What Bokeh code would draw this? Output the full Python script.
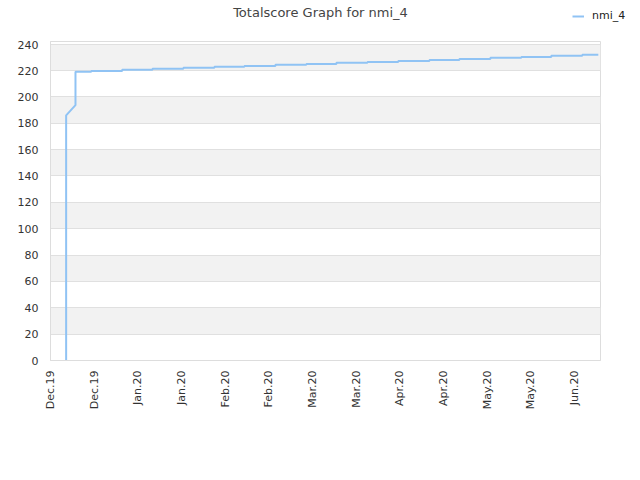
import math
import pandas as pd
from bokeh.plotting import figure
from bokeh.layouts import column, row
from bokeh.models import (FixedTicker, DatetimeTickFormatter, Range1d, BoxAnnotation,
                          Legend, LegendItem, Label)
from bokeh.embed import file_html
from bokeh.resources import INLINE

# ---- data ----
times = ["2019-12-15 09:00", "2019-12-15 09:00", "2019-12-18 14:00", "2019-12-18 14:00",
         "2019-12-24 00:00", "2019-12-24 00:00",
         "2020-01-03 15:00", "2020-01-03 15:00",
         "2020-01-14 01:00", "2020-01-14 01:00",
         "2020-01-24 16:00", "2020-01-24 16:00",
         "2020-02-04 08:00", "2020-02-04 08:00",
         "2020-02-14 15:00", "2020-02-14 15:00",
         "2020-02-25 07:00", "2020-02-25 07:00",
         "2020-03-06 22:00", "2020-03-06 22:00",
         "2020-03-17 06:00", "2020-03-17 06:00",
         "2020-03-27 22:00", "2020-03-27 22:00",
         "2020-04-07 12:00", "2020-04-07 12:00",
         "2020-04-18 05:00", "2020-04-18 05:00",
         "2020-04-28 12:00", "2020-04-28 12:00",
         "2020-05-09 04:00", "2020-05-09 04:00",
         "2020-05-19 19:00", "2020-05-19 19:00",
         "2020-05-30 02:00", "2020-05-30 02:00",
         "2020-06-09 18:00", "2020-06-09 18:00",
         "2020-06-15 06:00"]
scores = [0, 186, 193.7, 219.0,
          219.0, 219.7,
          219.7, 220.5,
          220.5, 221.3,
          221.3, 222.0,
          222.0, 222.8,
          222.8, 223.5,
          223.5, 224.3,
          224.3, 225.0,
          225.0, 225.8,
          225.8, 226.5,
          226.5, 227.3,
          227.3, 228.0,
          228.0, 228.8,
          228.8, 229.6,
          229.6, 230.3,
          230.3, 231.1,
          231.1, 231.9,
          231.9]

x_tick_dates = ["2019-12-10", "2019-12-25", "2020-01-09", "2020-01-24", "2020-02-08",
                "2020-02-23", "2020-03-09", "2020-03-24", "2020-04-08", "2020-04-23",
                "2020-05-08", "2020-05-23", "2020-06-07"]
x_range_dates = ["2019-12-10", "2020-06-16"]
y_ticks = [0, 20, 40, 60, 80, 100, 120, 140, 160, 180, 200, 220, 240]
y_max = 242
series_name = "nmi_4"
title_text = "Totalscore Graph for nmi_4"

LINE_COLOR = "#90c3f4"
HEADER_H = 40
TITLE_W = 563


def blank_fig(w, h):
    f = figure(width=w, height=h, output_backend="svg", toolbar_location=None,
               x_range=Range1d(0, w), y_range=Range1d(0, h),
               x_axis_location=None, y_axis_location=None,
               min_border=0, min_border_left=0, min_border_right=0,
               min_border_top=0, min_border_bottom=0)
    f.outline_line_color = None
    f.grid.visible = False
    return f


# ---- header: title ----
tfig = blank_fig(TITLE_W, HEADER_H)
tfig.add_layout(Label(x=320, y=HEADER_H - 12, text=title_text, text_align="center",
                      text_baseline="middle", text_font="DejaVu Sans",
                      text_font_size="13px", text_color="#444444"))

# ---- header: legend ----
lfig = blank_fig(640 - TITLE_W, HEADER_H)
dummy = lfig.line([0, 1], [-10, -10], line_color=LINE_COLOR, line_width=2)
legend = Legend(items=[LegendItem(label=series_name, renderers=[dummy])],
                location="top_left", orientation="horizontal",
                background_fill_alpha=0, border_line_color=None,
                label_text_font="DejaVu Sans", label_text_font_size="11px",
                label_text_color="#222222",
                glyph_width=12, glyph_height=10, label_standoff=8,
                padding=0, margin=9, spacing=0)
lfig.add_layout(legend, "center")

# ---- main plot ----
xs = pd.to_datetime(times)
x0, x1 = pd.to_datetime(x_range_dates)

p = figure(width=640, height=480 - HEADER_H, output_backend="svg", toolbar_location=None,
           x_axis_type="datetime",
           x_range=Range1d(x0, x1), y_range=Range1d(0, y_max),
           min_border_left=50, min_border_right=40, min_border_top=1,
           min_border_bottom=120)
p.background_fill_color = "white"
p.border_fill_color = "white"
p.outline_line_color = "#dddddd"

# alternating bands
for i in range(1, len(y_ticks), 2):
    top = y_ticks[i + 1] if i + 1 < len(y_ticks) else None
    p.add_layout(BoxAnnotation(bottom=y_ticks[i], top=top, fill_color="#f2f2f2",
                               fill_alpha=1, line_color=None, level="image"))

p.line(xs, scores, line_color=LINE_COLOR, line_width=2)

p.xgrid.visible = False
p.ygrid.grid_line_color = "#e0e0e0"
p.ygrid.ticker = FixedTicker(ticks=y_ticks)

p.yaxis.ticker = FixedTicker(ticks=y_ticks)
p.xaxis.ticker = FixedTicker(ticks=[pd.Timestamp(d).value / 1e6 for d in x_tick_dates])
fmt = "%b.%y"
p.xaxis.formatter = DatetimeTickFormatter(milliseconds=fmt, seconds=fmt, minsec=fmt,
                                          minutes=fmt, hourmin=fmt, hours=fmt, days=fmt,
                                          months=fmt, years=fmt)
p.xaxis.major_label_orientation = math.pi / 2
for ax in (p.xaxis, p.yaxis):
    ax.axis_line_color = "#dddddd"
    ax.major_tick_line_color = None
    ax.minor_tick_line_color = None
    ax.major_label_text_font = "DejaVu Sans"
    ax.major_label_text_font_size = "11px"
    ax.major_label_text_color = "#333333"
p.yaxis.major_label_standoff = 6
p.xaxis.major_label_standoff = 4

layout = column(row(tfig, lfig, spacing=0), p, spacing=0)
open("out.html", "w").write(file_html(layout, INLINE))
